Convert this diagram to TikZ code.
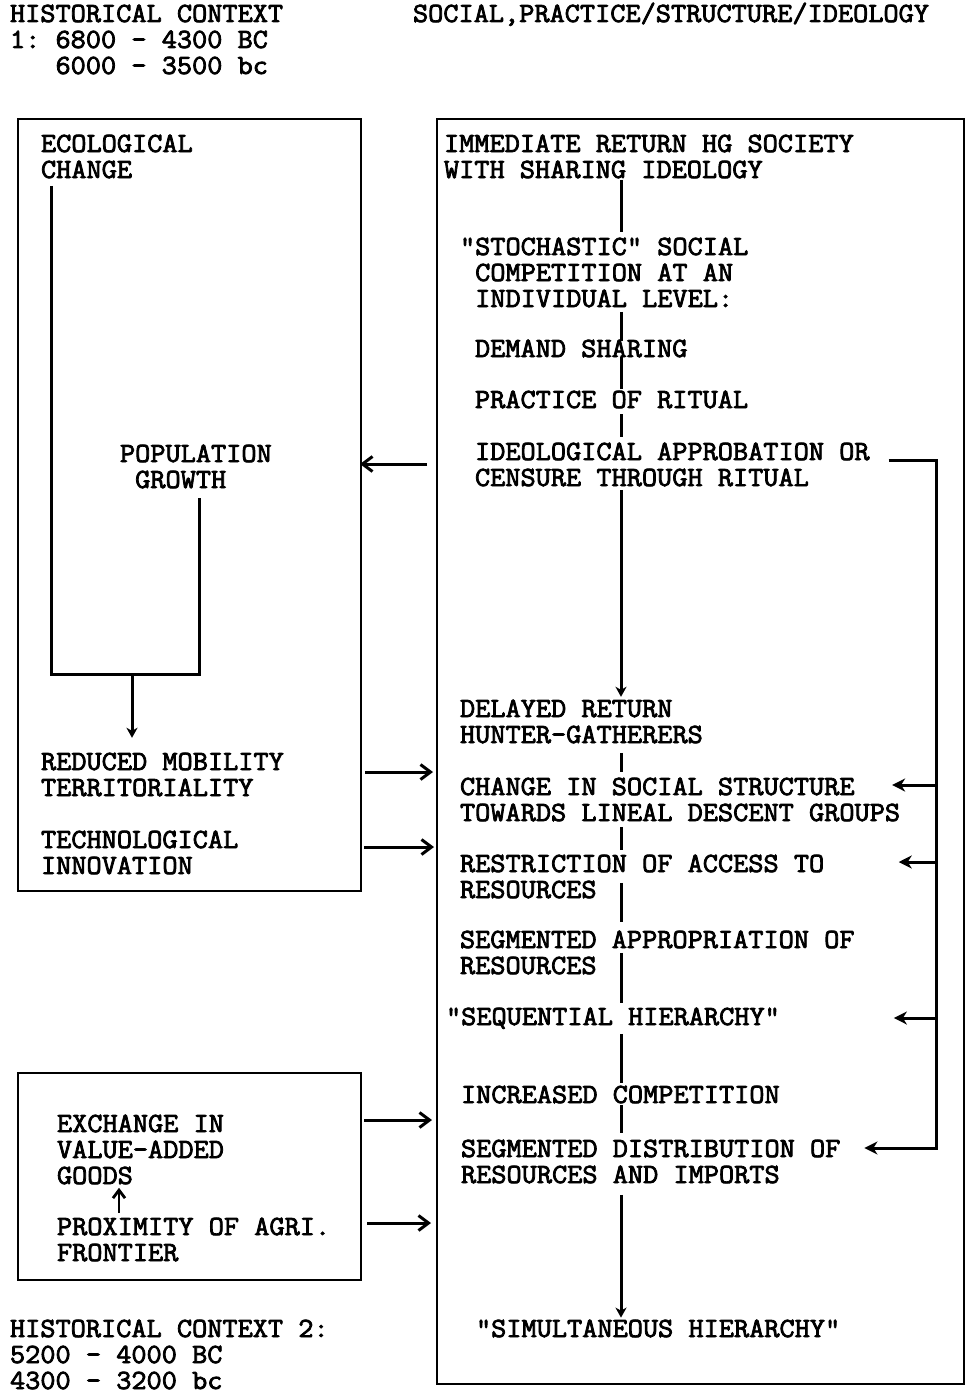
\documentclass[tikz,border=0pt]{standalone}
\usepackage{fontspec}
\usetikzlibrary{arrows.meta,calc}
\newfontfamily\typewriter{Latin Modern Mono}[FakeBold=2.8,FakeStretch=1.06]
% multi-line label whose baseline is that of its first line
\newcommand\stack[1]{\begin{tabular}[t]{@{}l@{}}#1\end{tabular}}

\tikzset{
  txt/.style={anchor=base west, inner sep=0pt, outer sep=0pt,
    font=\typewriter\fontsize{27.8}{26}\selectfont\frenchspacing},
  frame/.style={draw, line width=1.6pt, anchor=north west, inner sep=0pt, outer sep=0pt},
  link/.style={line width=3pt},
  tip/.style={link, -{Straight Barb[length=10pt,width=15pt]}},
  ftip/.style={link, -{Stealth[length=13pt,width=13pt,inset=4pt]}},
  dtip/.style={link, -{Stealth[length=10pt,width=11pt,inset=3pt]}},
  smalltip/.style={line width=2.8pt, -{Straight Barb[length=8pt,width=12pt]}},
}

\begin{document}
\begin{tikzpicture}[x=1pt,y=-1pt]
\useasboundingbox (0,0) rectangle (968,1394);

% frames
\node[frame, minimum width=343pt, minimum height=772pt] (box1) at (18,119) {};
\node[frame, minimum width=343pt, minimum height=207pt] (box2) at (18,1073) {};
\node[frame, minimum width=527pt, minimum height=1265pt] (box3) at (437,119) {};

% headings
\node[txt] (hdrL) at (10,22) {\stack{HISTORICAL CONTEXT\\1: 6800 - 4300 BC\\~~~6000 - 3500 bc}};
\node[txt] (hdrR) at (413,22) {SOCIAL,PRACTICE/STRUCTURE/IDEOLOGY};
\node[txt] (hdrB) at (10,1337) {\stack{HISTORICAL CONTEXT 2:\\5200 - 4000 BC\\4300 - 3200 bc}};

% left column
\node[txt] (eco) at (41,152) {\stack{ECOLOGICAL\\CHANGE}};
\node[txt] (pop) at (120,462) {\stack{POPULATION\\~GROWTH}};
\node[txt] (red) at (41,770) {\stack{REDUCED MOBILITY\\TERRITORIALITY}};
\node[txt] (tech) at (41,848) {\stack{TECHNOLOGICAL\\INNOVATION}};
\node[txt] (exch) at (57,1132) {\stack{EXCHANGE IN\\VALUE-ADDED\\GOODS}};
\node[txt] (prox) at (57,1235) {\stack{PROXIMITY OF AGRI.\\FRONTIER}};

% right column
\node[txt] (imm) at (444,152) {\stack{IMMEDIATE RETURN HG SOCIETY\\WITH SHARING IDEOLOGY}};
\node[txt] (stoch) at (460,255) {\stack{"STOCHASTIC" SOCIAL\\~COMPETITION AT AN\\~INDIVIDUAL LEVEL:}};
\node[txt] (demand) at (475,357) {DEMAND SHARING};
\node[txt] (practice) at (475,408) {PRACTICE OF RITUAL};
\node[txt] (ideo) at (475,460) {\stack{IDEOLOGICAL APPROBATION OR\\CENSURE THROUGH RITUAL}};
\node[txt] (delayed) at (460,717) {\stack{DELAYED RETURN\\HUNTER-GATHERERS}};
\node[txt] (change) at (460,795) {\stack{CHANGE IN SOCIAL STRUCTURE\\TOWARDS LINEAL DESCENT GROUPS}};
\node[txt] (restr) at (460,872) {\stack{RESTRICTION OF ACCESS TO\\RESOURCES}};
\node[txt] (seg) at (460,948) {\stack{SEGMENTED APPROPRIATION OF\\RESOURCES}};
\node[txt] (seq) at (446,1025) {"SEQUENTIAL HIERARCHY"};
\node[txt] (incr) at (461,1103) {INCREASED COMPETITION};
\node[txt] (distrib) at (461,1157) {\stack{SEGMENTED DISTRIBUTION OF\\RESOURCES AND IMPORTS}};
\node[txt] (simul) at (476,1337) {"SIMULTANEOUS HIERARCHY"};

% central spine
\coordinate (spine) at (621,0);
\draw[link, shorten <=-6pt, shorten >=5pt] (imm.south -| spine) -- (stoch.north -| spine);
\draw[link, shorten <=-3pt, shorten >=-1pt] (stoch.south -| spine) -- (demand.north -| spine);
\draw[link, shorten >=2pt] (demand.south -| spine) -- (practice.north -| spine);
\draw[link, shorten <=6pt, shorten >=5pt] (practice.south -| spine) -- (ideo.north -| spine);
\draw[dtip, shorten <=-4pt, shorten >=2pt] (ideo.south -| spine) -- (delayed.north -| spine);
\draw[link, shorten <=2pt, shorten >=5pt] (delayed.south -| spine) -- (change.north -| spine);
\draw[link, shorten <=-2pt, shorten >=4pt] (change.south -| spine) -- (restr.north -| spine);
\draw[link, shorten <=-23pt, shorten >=8pt] (restr.south -| spine) -- (seg.north -| spine);
\draw[link, shorten <=-29pt, shorten >=5pt] (seg.south -| spine) -- (seq.north -| spine);
\draw[link, shorten <=5pt, shorten >=3pt] (seq.south -| spine) -- (incr.north -| spine);
\draw[link, shorten <=2pt, shorten >=6pt] (incr.south -| spine) -- (distrib.north -| spine);
\draw[dtip, shorten <=4pt, shorten >=2pt] (distrib.south -| spine) -- (simul.north -| spine);

% feedback loop from ritual sanction
\coordinate (loop) at (936,0);
\draw[ftip] ($(ideo.base east)+(19,0)$) -| ($(distrib.base -| loop)+(0,-9)$)
  -- ($(distrib.base east)+(24,-9)$);
\draw[ftip] ($(change.base -| loop)+(0,-10)$) -- ($(change.base east)+(-8,-10)$);
\draw[ftip] ($(restr.base -| loop)+(0,-10)$) -- ($(restr.base east)+(74.5,-10)$);
\draw[ftip] ($(seq.base -| loop)+(0,-7)$) -- ($(seq.base east)+(114,-7)$);

% ecological and demographic pressure
\coordinate (merge) at (132,674);
\draw[link] ($(eco.south west)+(10,0)$) |- (merge) -| ($(pop.south west)+(79,2)$);
\draw[dtip, shorten >=14pt] (merge) -- (red.north -| merge);

% links between the columns
\draw[tip] ($(box3.west |- pop.base)+(-10,2)$) -- ($(box1.east |- pop.base)+(-1,2)$);
\draw[tip] ($(box1.east |- red.base)+(4,2)$) -- ($(box3.west |- red.base)+(-4,2)$);
\draw[tip] ($(box1.east |- tech.base)+(3,-1)$) -- ($(box3.west |- tech.base)+(-3,-1)$);
\draw[tip] ($(box2.east |- exch.base)+(3,-12)$) -- ($(box3.west |- exch.base)+(-5,-12)$);
\draw[tip] ($(box2.east |- prox.base)+(6,-12)$) -- ($(box3.west |- prox.base)+(-6,-12)$);

% frontier drives exchange
\draw[smalltip] ($(prox.north west)+(62,-4)$) -- ($(exch.south west)+(62,-4)$);
\end{tikzpicture}
\end{document}
